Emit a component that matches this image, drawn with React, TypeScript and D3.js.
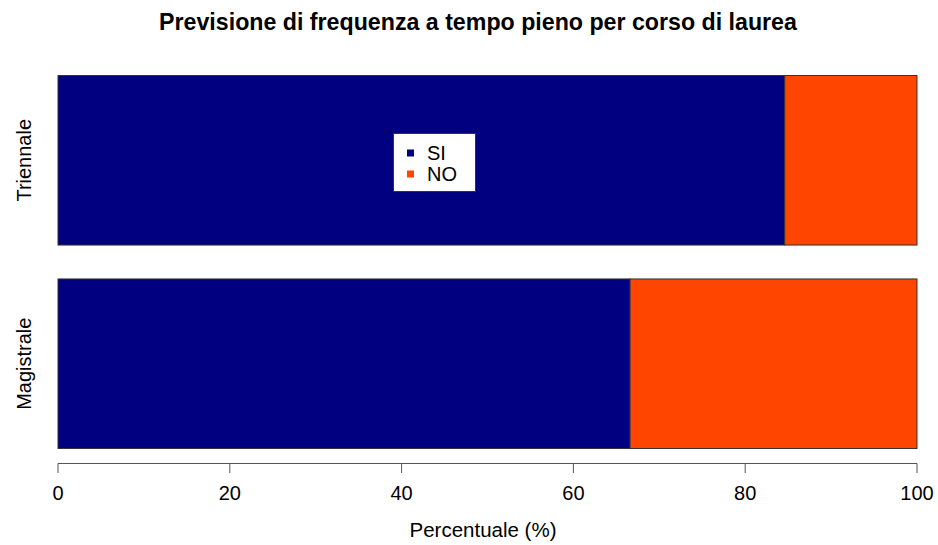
import React from "react";
import * as d3 from "d3";

const categories = ["Triennale", "Magistrale"];
const siValues = [84.6, 66.6];
const noValues = [15.4, 33.4];
const seriesNames = ["SI", "NO"];
const seriesColors = ["#000080", "#FF4500"];
const xTicks = [0, 20, 40, 60, 80, 100];
const title = "Previsione di frequenza a tempo pieno per corso di laurea";
const xLabel = "Percentuale (%)";

export default function App() {
  const W = 938, H = 545;
  const x = d3.scaleLinear().domain([0, 100]).range([58, 917]);
  const y = d3.scaleBand().domain(categories).range([75.5, 448.5]).paddingInner(1 / 6).paddingOuter(0);
  const font = "'Liberation Sans', Arial, Helvetica, sans-serif";
  const stack = categories.map((c, i) => ({ c, segs: [
    { x0: 0, x1: siValues[i], color: seriesColors[0] },
    { x0: siValues[i], x1: siValues[i] + noValues[i], color: seriesColors[1] },
  ]}));
  return (
    <svg width={W} height={H} style={{ position: "absolute", left: 0, top: 0, fontFamily: font }}>
      <rect width={W} height={H} fill="#fff" />
      <text x={478} y={30} textAnchor="middle" fontWeight="bold" fontSize={23.2} fill="#000">{title}</text>
      {stack.map(s => (
        <g key={s.c}>
          {s.segs.map((sg, j) => (
            <rect key={j} x={x(sg.x0)} y={y(s.c)!} width={x(sg.x1) - x(sg.x0)} height={y.bandwidth()}
              fill={sg.color} stroke="#333" strokeWidth={1} />
          ))}
          <text transform={`translate(31,${y(s.c)! + y.bandwidth() / 2}) rotate(-90)`} textAnchor="middle"
            fontSize={20} fill="#000">{s.c}</text>
        </g>
      ))}
      <g>
        <line x1={x(0)} x2={x(100)} y1={463.5} y2={463.5} stroke="#555" />
        {xTicks.map(t => (
          <g key={t}>
            <line x1={x(t)} x2={x(t)} y1={463.5} y2={473} stroke="#555" />
            <text x={x(t)} y={500} textAnchor="middle" fontSize={20} fill="#000">{t}</text>
          </g>
        ))}
        <text x={483} y={537} textAnchor="middle" fontSize={20.5} fill="#000">{xLabel}</text>
      </g>
      <g>
        <rect x={393.5} y={133.5} width={82} height={58} fill="#fff" stroke="#333" />
        {seriesNames.map((n, i) => (
          <g key={n}>
            <rect x={407} y={149.5 + i * 21} width={7} height={7} fill={seriesColors[i]} />
            <text x={427} y={160 + i * 21} fontSize={20} fill="#000">{n}</text>
          </g>
        ))}
      </g>
    </svg>
  );
}
